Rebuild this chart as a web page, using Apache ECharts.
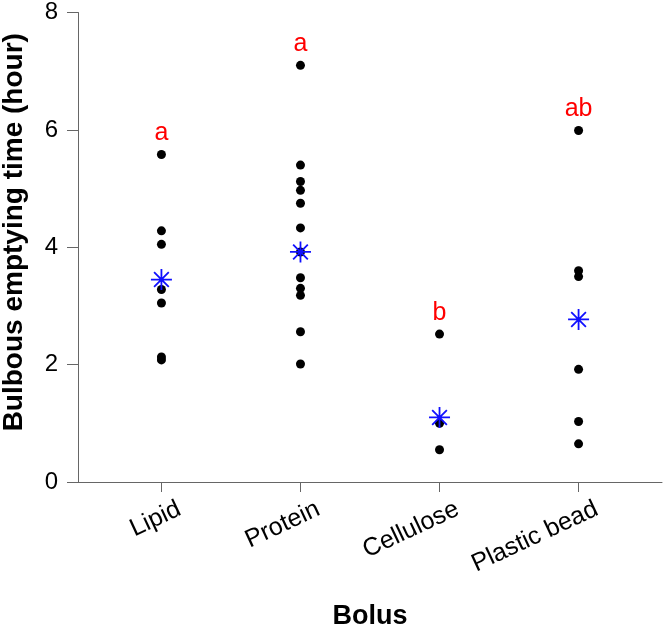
<!DOCTYPE html>
<html>
<head>
<meta charset="utf-8">
<title>Bulbous emptying time</title>
<script src="https://cdn.jsdelivr.net/npm/echarts@6/dist/echarts.min.js"></script>
<style>
  html, body { margin: 0; padding: 0; background: #fff; }
  #chart { width: 666px; height: 630px; }
</style>
</head>
<body>
<div id="chart"></div>
<script>
// 分组（x 轴位置 1..4）
const categories = ['Lipid', 'Protein', 'Cellulose', 'Plastic bead'];
const categoryPos = [1, 2, 3, 4];

// 每个个体的排空时间（小时）
const lipidValues = [5.58, 4.28, 4.05, 3.28, 3.05, 2.13, 2.08];
const proteinValues = [7.10, 5.40, 5.12, 4.97, 4.75, 4.33, 3.92, 3.48, 3.30, 3.18, 2.56, 2.01];
const celluloseValues = [2.52, 1.00, 0.55];
const plasticValues = [5.99, 3.60, 3.50, 1.92, 1.03, 0.65];

// 均值（蓝色星号）
const meanValues = [3.45, 3.92, 1.10, 2.77];

// 显著性字母
const letters = ['a', 'a', 'b', 'ab'];
const letterHeights = [5.94, 7.46, 2.87, 6.36];

const yTicks = [0, 2, 4, 6, 8];

const FONT = '"Liberation Sans", Arial, sans-serif';

const groups = [lipidValues, proteinValues, celluloseValues, plasticValues];
const dotData = [];
groups.forEach((vals, i) => {
  vals.forEach((v) => dotData.push([categoryPos[i], v]));
});

const meanData = meanValues.map((v, i) => [categoryPos[i], v]);
const letterData = letterHeights.map((v, i) => ({ value: [categoryPos[i], v], name: letters[i] }));

// 旋转标签稍微右移，让标签末端落在刻度右侧
const labelShift = 0.13;
const labelPos = categoryPos.map((p) => p + labelShift);

const chart = echarts.init(document.getElementById('chart'));

chart.setOption({
  animation: false,
  backgroundColor: '#fff',
  grid: {
    left: 78,
    right: 4,
    top: 12.5,
    bottom: 148,
    containLabel: false,
    outerBoundsMode: 'none',
  },
  xAxis: {
    type: 'value',
    min: 0.4,
    max: 4.6,
    name: 'Bolus',
    nameLocation: 'middle',
    nameGap: 121,
    nameTextStyle: {
      fontFamily: FONT,
      fontSize: 27,
      fontWeight: 'bold',
      color: '#000',
    },
    splitLine: { show: false },
    axisLine: { show: true, lineStyle: { color: '#666', width: 1 } },
    axisTick: {
      show: true,
      length: 10,
      customValues: categoryPos,
      lineStyle: { color: '#666', width: 1 },
    },
    axisLabel: {
      customValues: labelPos,
      rotate: 25,
      margin: 26,
      fontFamily: FONT,
      fontSize: 25,
      color: '#000',
      formatter: (value) => {
        const idx = labelPos.findIndex((p) => Math.abs(p - value) < 1e-6);
        return idx >= 0 ? categories[idx] : '';
      },
    },
  },
  yAxis: {
    type: 'value',
    min: 0,
    max: 8,
    interval: 2,
    name: 'Bulbous emptying time (hour)',
    nameLocation: 'middle',
    nameGap: 50,
    nameTextStyle: {
      fontFamily: FONT,
      fontSize: 28,
      fontWeight: 'bold',
      color: '#000',
      padding: [0, 0, 0, 30],
    },
    splitLine: { show: false },
    axisLine: { show: true, lineStyle: { color: '#666', width: 1 } },
    axisTick: {
      show: true,
      length: 11,
      customValues: yTicks,
      lineStyle: { color: '#666', width: 1 },
    },
    axisLabel: {
      margin: 20,
      fontFamily: FONT,
      fontSize: 24,
      color: '#000',
    },
  },
  series: [
    {
      name: 'individual',
      type: 'scatter',
      data: dotData,
      symbol: 'circle',
      symbolSize: 9,
      itemStyle: { color: '#000', opacity: 1 },
      z: 2,
    },
    {
      name: 'mean',
      type: 'scatter',
      data: meanData,
      symbol: 'path://M10,0L10,20M0,10L20,10M3,3L17,17M3,17L17,3',
      symbolSize: 21,
      itemStyle: {
        color: 'rgba(0,0,0,0)',
        borderColor: '#1010ff',
        borderWidth: 1.8,
        opacity: 1,
      },
      z: 3,
    },
    {
      name: 'letters',
      type: 'scatter',
      data: letterData,
      symbolSize: 0,
      itemStyle: { opacity: 1 },
      label: {
        show: true,
        position: 'inside',
        formatter: (p) => p.name,
        fontFamily: FONT,
        fontSize: 25,
        color: '#ff0000',
      },
      z: 4,
    },
  ],
});
</script>
</body>
</html>
